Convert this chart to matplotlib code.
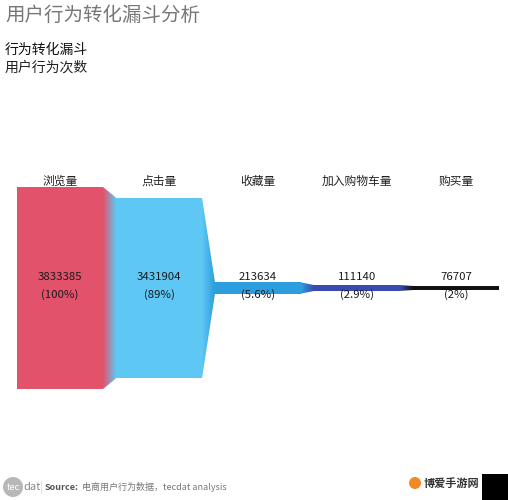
import matplotlib
matplotlib.use("Agg")
import matplotlib.pyplot as plt
from matplotlib.patches import Polygon, Rectangle, Circle
from matplotlib.colors import to_rgb
import numpy as np

plt.rcParams['font.family'] = ['Noto Sans CJK SC', 'DejaVu Sans']

stages = ['浏览量', '点击量', '收藏量', '加入购物车量', '购买量']
counts = [3833385, 3431904, 213634, 111140, 76707]
pct_labels = ['(100%)', '(89%)', '(5.6%)', '(2.9%)', '(2%)']
colors = ['#E2536B', '#5EC7F3', '#2C9EDD', '#3A4AAE', '#111111']

title = '用户行为转化漏斗分析'
subtitle = '行为转化漏斗'
measure = '用户行为次数'
source = '电商用户行为数据，tecdat analysis'

# layout in pixel units
W, H = 508, 500
x0, pitch, bar_w = 17, 99, 86
cy = 288
max_h = 202

fig = plt.figure(figsize=(W / 100, H / 100), dpi=100)
ax = fig.add_axes([0, 0, 1, 1])

heights = np.array(counts) / counts[0] * max_h
lefts = [x0 + i * pitch for i in range(len(counts))]

for i, (c, h, l) in enumerate(zip(counts, heights, lefts)):
    ax.add_patch(Rectangle((l, cy - h / 2), bar_w, h, facecolor=colors[i],
                           edgecolor='none', zorder=2))
    # transition to next stage, gradient filled
    if i < len(counts) - 1:
        xa, xb = l + bar_w, lefts[i + 1]
        hb = heights[i + 1]
        poly = Polygon([(xa, cy - h / 2), (xa, cy + h / 2),
                        (xb, cy + hb / 2), (xb, cy - hb / 2)],
                       closed=True, facecolor='none', edgecolor='none',
                       transform=ax.transData)
        ax.add_patch(poly)
        c1, c2 = np.array(to_rgb(colors[i])), np.array(to_rgb(colors[i + 1]))
        t = np.linspace(0, 1, 50)[:, None]
        grad = (c1 * (1 - t) + c2 * t)[None, :, :]
        im = ax.imshow(grad, extent=[xa, xb, cy + h / 2, cy - h / 2],
                       aspect='auto', interpolation='bilinear', zorder=2)
        im.set_clip_path(poly)

    cx = l + bar_w / 2
    ax.text(cx, 181, stages[i], ha='center', va='center', fontsize=8.5, color='#222222')
    ax.text(cx, 286, f'{c}\n{pct_labels[i]}', ha='center', va='center',
            fontsize=8.2, color='#1a1a1a', linespacing=1.75, zorder=3)

ax.set_xlim(0, W)
ax.set_ylim(H, 0)
ax.axis('off')

# titles
ax.text(5, 15, title, ha='left', va='center', fontsize=14, color='#777777')
ax.text(5, 50, subtitle, ha='left', va='center', fontsize=10, color='#111111',
        fontweight='medium')
ax.text(5, 68, measure, ha='left', va='center', fontsize=10, color='#222222')

# footer
ax.add_patch(Circle((13, 487), 10, facecolor='#B8B8B8', edgecolor='none'))
ax.text(13, 487, 'tec', ha='center', va='center', fontsize=6.5, color='white')
ax.text(23, 487, 'dat', ha='left', va='center', fontsize=8, color='#888888')
ax.plot([41, 41], [481, 493], color='#dddddd', lw=0.6)
ax.text(45, 487, 'Source:', ha='left', va='center', fontsize=6.5, color='#555555',
        fontweight='bold')
ax.text(82, 487, source, ha='left', va='center', fontsize=6.5, color='#777777')

# watermark
ax.add_patch(Rectangle((482, 474), 26, 26, facecolor='black', edgecolor='none'))
ax.add_patch(Rectangle((406, 474), 76, 26, facecolor='white', edgecolor='none'))
ax.add_patch(Circle((415, 483), 6, facecolor='#F08A24', edgecolor='none'))
ax.text(424, 483, '博爱手游网', ha='left', va='center', fontsize=8,
        color='#333333', fontweight='bold')

fig.savefig('out.png', dpi=100)
